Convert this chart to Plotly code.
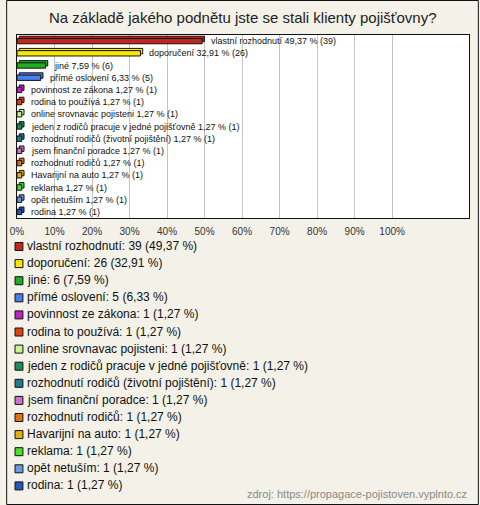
import plotly.graph_objects as go

categories = [
    "vlastní rozhodnutí", "doporučení", "jiné", "přímé oslovení",
    "povinnost ze zákona", "rodina to používá", "online srovnavac pojisteni",
    "jeden z rodičů pracuje v jedné pojišťovně",
    "rozhodnutí rodičů (životní pojištění)", "jsem finanční poradce",
    "rozhodnutí rodičů", "Havarijní na auto", "reklama", "opět netuším", "rodina",
]
counts = [39, 26, 6, 5, 1, 1, 1, 1, 1, 1, 1, 1, 1, 1, 1]
percents = [49.37, 32.91, 7.59, 6.33, 1.27, 1.27, 1.27, 1.27, 1.27, 1.27,
            1.27, 1.27, 1.27, 1.27, 1.27]
colors = ["#c4261a", "#f7e600", "#1fae1f", "#4a7ff0", "#c21fc7", "#e2420f",
          "#c9f58e", "#1e8c5c", "#1f7c8e", "#c975cc", "#e3700f", "#e3b00a",
          "#4be02a", "#6a9be0", "#2456bb"]
tick_vals = [0, 10, 20, 30, 40, 50, 60, 70, 80, 90, 100]
tick_text = [f"{v}%" for v in tick_vals]
title = "Na základě jakého podnětu jste se stali klienty pojišťovny?"
source = "zdroj: https://propagace-pojistoven.vyplnto.cz"

W, H = 480, 505
L, R, T, B = 11, 10, 35, 287
PH = H - T - B
FONT = "Liberation Sans, Arial, sans-serif"


def fmt(p):
    return f"{p:.2f}".replace(".", ",")


def py(ypx):
    return 1 - (ypx - T) / PH


def px(xpx):
    return (xpx - L) / (W - L - R)


ypos = list(range(len(categories)))
fig = go.Figure()
# depth (3D back face)
fig.add_trace(go.Bar(
    y=ypos, x=percents, base=0.6, orientation="h", width=0.44, offset=-0.40,
    marker=dict(color=colors, line=dict(color="#111", width=1)),
    hoverinfo="skip", showlegend=False,
))
# front face
fig.add_trace(go.Bar(
    y=ypos, x=percents, orientation="h", width=0.44, offset=-0.22,
    marker=dict(color=colors, line=dict(color="#111", width=1)),
    showlegend=False,
))

annotations = []
for i, (c, p, n) in enumerate(zip(categories, percents, counts)):
    annotations.append(dict(
        x=p, y=i, xref="x", yref="y", text=f"{c} {fmt(p)} % ({n})",
        showarrow=False, xanchor="left", yanchor="middle", xshift=7,
        font=dict(family=FONT, size=9, color="#111"),
    ))

# legend rows
y0, dy = 246, 17.1
shapes = []
for i, (c, p, n, col) in enumerate(zip(categories, percents, counts, colors)):
    yc = y0 + i * dy
    annotations.append(dict(
        x=px(19), y=py(yc), xref="paper", yref="paper",
        text=f"{c}: {n} ({fmt(p)} %)", showarrow=False,
        xanchor="left", yanchor="middle",
        font=dict(family=FONT, size=12, color="#111"),
    ))
    shapes.append(dict(
        type="rect", xref="paper", yref="paper",
        x0=px(9), x1=px(17), y0=py(yc + 4.5), y1=py(yc - 3.5),
        fillcolor=col, line=dict(color="#111", width=1),
    ))

annotations.append(dict(
    x=px(470), y=py(494), xref="paper", yref="paper", text=source,
    showarrow=False, xanchor="right", yanchor="middle",
    font=dict(family=FONT, size=11, color="#8a8a8a"),
))
annotations.append(dict(
    x=px(W / 2), y=py(18), xref="paper", yref="paper",
    text=title, showarrow=False, xanchor="center", yanchor="middle",
    font=dict(family=FONT, size=15, color="#222"),
))

# outer border
shapes.append(dict(type="rect", xref="paper", yref="paper",
                   x0=px(0.5), x1=px(W - 0.5), y0=py(H - 0.5), y1=py(0.5),
                   line=dict(color="#111", width=1), layer="below"))

fig.update_layout(
    width=W, height=H, margin=dict(l=L, r=R, t=T, b=B),
    paper_bgcolor="#f3f1e8", plot_bgcolor="#ffffff",
    barmode="overlay", showlegend=False,
    annotations=annotations, shapes=shapes,
    xaxis=dict(range=[0, 120.5], tickvals=tick_vals, ticktext=tick_text,
               showgrid=True, gridcolor="#c4c4c4", gridwidth=1,
               showline=True, mirror=True, linecolor="#111", linewidth=1,
               zeroline=False, ticks="", ticklabelstandoff=4,
               tickfont=dict(family=FONT, size=10, color="#333"), fixedrange=True),
    yaxis=dict(range=[len(categories) - 0.5, -0.5], showticklabels=False,
               showgrid=False, showline=True, mirror=True, linecolor="#111",
               linewidth=1, zeroline=False, ticks="", fixedrange=True),
)
fig.write_html("out.html", config={"displayModeBar": False},
               post_script="document.body.style.margin='0';")
